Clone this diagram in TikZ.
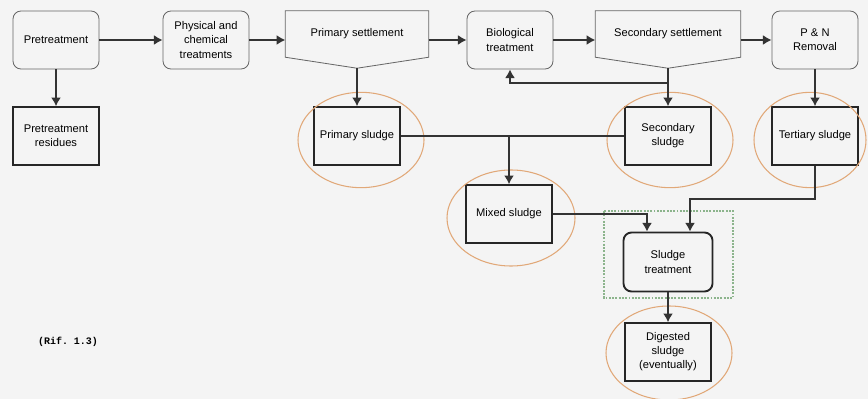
\documentclass[tikz,border=0pt]{standalone}
\usepackage{fontspec}
\setsansfont{Liberation Sans}
\setmonofont{Liberation Mono}
\usetikzlibrary{arrows.meta}
\definecolor{bggray}{RGB}{244,244,244}
\definecolor{ringorange}{RGB}{225,168,120}
\definecolor{boxgreen}{RGB}{140,180,140}
\tikzset{
  procbox/.style={draw=black!60, line width=0.7pt, rounded corners=2.4mm, align=center,
    minimum width=2.58cm, minimum height=1.74cm, inner sep=1pt},
  settlebox/.style={minimum height=1.38cm, inner sep=1pt},
  settleline/.style={draw=black!60, line width=0.7pt},
  sludgebox/.style={draw=black!85, line width=1.4pt, align=center,
    minimum width=2.58cm, minimum height=1.74cm, inner sep=1pt},
  treatbox/.style={sludgebox, line width=1.6pt, rounded corners=2.4mm, minimum width=2.67cm, minimum height=1.77cm},
  ring/.style={draw=ringorange, line width=0.9pt},
  flow/.style={draw=black!80, line width=1.3pt}
}
\begin{document}
\begin{tikzpicture}[x=0.03cm,y=-0.03cm, font=\sffamily\fontsize{9.5}{12}\selectfont,
  >={Latex[length=2.6mm,width=3mm]}]
\useasboundingbox[fill=bggray] (0,0) rectangle (868,399);

% process line
\node[procbox] (pre) at (56,40) {Pretreatment};
\node[procbox] (phys) at (206,40) {Physical and\\chemical\\treatments};
\node[settlebox, minimum width=4.29cm] (prim) at (357,34) {Primary settlement};
\node[procbox] (bio) at (510,40) {Biological\\treatment};
\node[settlebox, minimum width=4.35cm] (sec) at (668,34) {Secondary settlement};
\node[procbox] (pn) at (815,40) {P \& N\\Removal};

\draw[settleline] (prim.north west) -- (prim.north east) -- (prim.south east)
  -- ([yshift=-0.33cm]prim.south) coordinate (primtip) -- (prim.south west) -- cycle;
\draw[settleline] (sec.north west) -- (sec.north east) -- (sec.south east)
  -- ([yshift=-0.33cm]sec.south) coordinate (sectip) -- (sec.south west) -- cycle;

% sludges
\node[sludgebox] (preres) at (56,136) {Pretreatment\\residues};
\node[sludgebox] (prims) at (357,136) {Primary sludge};
\node[sludgebox] (secs) at (668,136) {Secondary\\sludge};
\node[sludgebox] (ters) at (815,136) {Tertiary sludge};
\node[sludgebox] (mixs) at (509,214) {Mixed sludge};
\node[treatbox] (sltr) at (668,262) {Sludge\\treatment};
\node[sludgebox] (digs) at (668,352) {Digested\\sludge\\(eventually)};

\draw[ring] (361,140) ellipse [x radius=1.89cm, y radius=1.43cm];
\draw[ring] (670,140) ellipse [x radius=1.89cm, y radius=1.43cm];
\draw[ring] (810,140) ellipse [x radius=1.68cm, y radius=1.43cm];
\draw[ring] (511,218) ellipse [x radius=1.92cm, y radius=1.44cm];
\draw[ring] (669,353) ellipse [x radius=1.89cm, y radius=1.41cm];

\draw[draw=boxgreen, line width=1pt, dash pattern=on 1.6pt off 1.2pt] (604,211) rectangle (733,298);

% connectors
\draw[flow,->] (pre) -- (phys);
\draw[flow,->] (phys.east) -- (phys.east -| prim.west);
\draw[flow,->] (prim.east |- bio.west) -- (bio.west);
\draw[flow,->] (bio.east) -- (bio.east -| sec.west);
\draw[flow,->] (sec.east |- pn.west) -- (pn.west);

\draw[flow,->] (pre) -- (preres);
\draw[flow,->] (primtip) -- (prims);
\draw[flow,->] (sectip) -- (secs);
\draw[flow,->] (pn) -- (ters);
\draw[flow,->] (sltr) -- (digs);

\coordinate (recyc) at (667,83);
\draw[flow,->] (recyc) -| (bio.south);

\draw[flow] (prims.east) -- (secs.west);
\draw[flow,->] (prims.east -| mixs.north) -- (mixs.north);
\draw[flow,->] (mixs.east) -| ([xshift=-0.63cm]sltr.north);
\coordinate (terbend) at (690,199);
\draw[flow,->] (ters.south) |- (terbend) -- (terbend |- sltr.north);

\node[font=\ttfamily\bfseries\fontsize{8.5}{9}\selectfont] (rif) at (68,342) {(Rif. 1.3)};
\end{tikzpicture}
\end{document}
